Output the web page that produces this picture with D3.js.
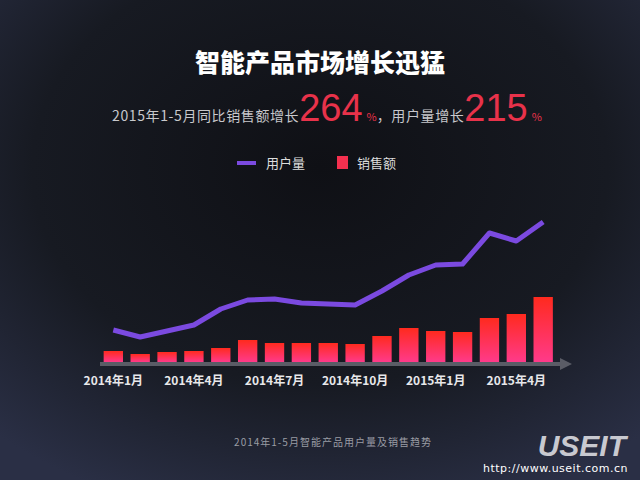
<!DOCTYPE html>
<html><head><meta charset="utf-8">
<script src="https://cdn.jsdelivr.net/npm/d3@7"></script>
<style>body{margin:0;background:#1a1c24;}svg{display:block;}</style>
</head><body>
<svg id="c" width="640" height="480"></svg>
<script>
const months = ["2014-01","2014-02","2014-03","2014-04","2014-05","2014-06","2014-07","2014-08","2014-09","2014-10","2014-11","2014-12","2015-01","2015-02","2015-03","2015-04","2015-05"];
const tickLabels = {"2014-01":"2014年1月","2014-04":"2014年4月","2014-07":"2014年7月","2014-10":"2014年10月","2015-01":"2015年1月","2015-04":"2015年4月"};
const users = [32,25,31,37,53,62,63,59,58,57,71,87,97,98,129,121,140];
const sales = [11,8,10,11,14,22,19,19,19,18,26,34,31,30,44,48,65];

const svg = d3.select("#c");
const defs = svg.append("defs");
const bg = defs.append("radialGradient").attr("id","bg").attr("cx","50%").attr("cy","35%").attr("r","75%");
bg.append("stop").attr("offset","0%").attr("stop-color","#0f1015");
bg.append("stop").attr("offset","60%").attr("stop-color","#171a22");
bg.append("stop").attr("offset","100%").attr("stop-color","#2a2f45");
const bar = defs.append("linearGradient").attr("id","bar").attr("x1",0).attr("y1",0).attr("x2",0).attr("y2",1);
bar.append("stop").attr("offset","0%").attr("stop-color","#ff2a1e");
bar.append("stop").attr("offset","100%").attr("stop-color","#ff3a8a");
svg.append("rect").attr("width",640).attr("height",480).attr("fill","url(#bg)");

const F = "'Noto Sans CJK SC','Noto Sans',sans-serif";
svg.append("text").attr("x",320).attr("y",72).attr("text-anchor","middle").attr("fill","#fff")
  .attr("font-family",F).attr("font-weight","900").attr("font-size",25).text("智能产品市场增长迅猛");
const sub = svg.append("text").attr("x",327).attr("y",121).attr("text-anchor","middle").attr("font-family",F).attr("fill","#c8c8cc");
sub.append("tspan").attr("font-size",14).attr("letter-spacing",0.6).text("2015年1-5月同比销售额增长");
sub.append("tspan").attr("font-size",38).attr("fill","#e8324a").attr("font-family","'Liberation Sans',sans-serif").text("264");
sub.append("tspan").attr("font-size",11).attr("fill","#e8324a").attr("dx",4).text("%");
sub.append("tspan").attr("font-size",14).attr("letter-spacing",0.6).text("，用户量增长");
sub.append("tspan").attr("font-size",38).attr("fill","#e8324a").attr("font-family","'Liberation Sans',sans-serif").text("215");
sub.append("tspan").attr("font-size",11).attr("fill","#e8324a").attr("dx",4).text("%");

// legend
svg.append("rect").attr("x",237).attr("y",161).attr("width",19).attr("height",4).attr("fill","#7b4ae0");
svg.append("text").attr("x",266).attr("y",168).attr("fill","#ddd").attr("font-family",F).attr("font-size",13).text("用户量");
svg.append("rect").attr("x",337).attr("y",156).attr("width",11).attr("height",13).attr("fill","#f5304f");
svg.append("text").attr("x",357).attr("y",168).attr("fill","#ddd").attr("font-family",F).attr("font-size",13).text("销售额");

const base = 362;
const x = d3.scaleBand().domain(months).range([101.5,555]).paddingInner(0.28).paddingOuter(0.08);
const y = d3.scaleLinear().domain([0,140]).range([base,base-140]);

svg.append("g").selectAll("rect").data(sales).join("rect")
  .attr("x",(d,i)=>x(months[i])).attr("width",x.bandwidth())
  .attr("y",d=>y(d)).attr("height",d=>base-y(d)).attr("fill","url(#bar)");

svg.append("rect").attr("x",100).attr("y",base).attr("width",462).attr("height",4).attr("fill","#5a5c66");
svg.append("path").attr("d",`M560,${base-4}L572,${base+2}L560,${base+8}Z`).attr("fill","#5a5c66");

const line = d3.line().x((d,i)=>x(months[i])+x.bandwidth()/2).y(d=>y(d));
svg.append("path").datum(users).attr("d",line).attr("fill","none").attr("stroke","#7b4ae0")
  .attr("stroke-width",5).attr("stroke-linejoin","round");

svg.append("g").attr("transform",`translate(0,${base+2})`)
  .call(d3.axisBottom(x).tickValues(Object.keys(tickLabels)).tickFormat(d=>tickLabels[d]).tickSize(0).tickPadding(12))
  .call(g=>g.select(".domain").remove())
  .call(g=>g.selectAll("text").attr("fill","#e8e8ea").attr("font-family",F).attr("font-weight","bold").attr("font-size",12));

svg.append("text").attr("x",333).attr("y",446).attr("text-anchor","middle").attr("fill","#9a9ca4")
  .attr("font-family",F).attr("font-size",10).attr("letter-spacing",1).text("2014年1-5月智能产品用户量及销售趋势");
svg.append("text").attr("x",626).attr("y",456).attr("text-anchor","end").attr("fill","#c8c9d0")
  .attr("font-family","'Liberation Sans',sans-serif").attr("font-weight","bold").attr("font-style","italic").attr("font-size",30).text("USEIT");
svg.append("text").attr("x",628).attr("y",472).attr("text-anchor","end").attr("fill","#fff")
  .attr("font-family","'DejaVu Sans',sans-serif").attr("font-size",11).attr("letter-spacing",0.5).text("http://www.useit.com.cn");
</script>
</body></html>
